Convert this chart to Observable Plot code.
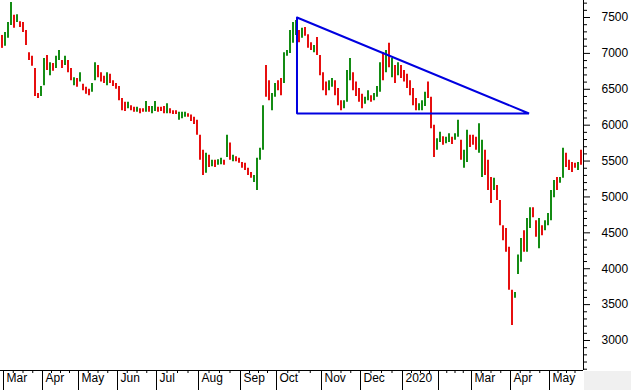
<!DOCTYPE html>
<html>
<head>
<meta charset="utf-8">
<script src="https://cdn.jsdelivr.net/npm/d3@7"></script>
<script src="https://cdn.jsdelivr.net/npm/@observablehq/plot@0.6"></script>
<style>
  html, body { margin: 0; padding: 0; background: #fff; }
</style>
</head>
<body>
<div id="chart"></div>
<script>
// Daily bar ranges (high / low), Mar 2019 – May 2020
const highs = [
  7250,7290,7430,7710,7530,7540,7440,7430,7320,7010,
  6960,6790,6440,6540,6930,6970,6870,6860,6960,7040,
  6900,6960,6900,6790,6660,6650,6730,6570,6530,6500,
  6580,6870,6830,6730,6680,6730,6710,6620,6580,6540,
  6370,6320,6320,6270,6250,6250,6230,6230,6330,6260,
  6260,6330,6250,6250,6260,6300,6230,6200,6200,6180,
  6180,6180,6160,6140,6110,6070,5860,5650,5610,5580,
  5510,5510,5520,5540,5510,5860,5750,5580,5560,5540,
  5480,5470,5400,5340,5300,5540,5680,6270,6830,6620,
  6440,6580,6620,6650,7010,7040,7320,7430,7460,7320,
  7350,7360,7260,7150,7110,7220,6970,6730,6600,6620,
  6650,6620,6510,6340,6340,6760,6930,6730,6600,6510,
  6430,6390,6480,6410,6440,6540,6870,7010,7040,7140,
  6930,6830,6870,6830,6760,6710,6620,6510,6370,6300,
  6340,6460,6600,6390,6000,5810,5900,5840,5830,5880,
  5830,5880,6070,5790,5650,5930,5860,5860,5830,6020,
  5790,5650,5510,5270,5260,5160,4950,4600,4560,4300,
  3700,3670,4190,4420,4530,4700,4850,4850,4670,4700,
  4600,4670,4770,5090,5230,5270,5270,5680,5610,5510,
  5480,5470,5480,5650
];
const lows = [
  7070,7100,7210,7390,7350,7430,7360,7290,7110,6900,
  6820,6400,6370,6400,6550,6760,6690,6750,6790,6900,
  6790,6830,6730,6620,6550,6530,6600,6480,6430,6410,
  6460,6620,6660,6600,6580,6550,6580,6540,6500,6340,
  6200,6190,6230,6200,6180,6180,6160,6180,6180,6180,
  6160,6190,6180,6190,6160,6160,6160,6150,6150,6070,
  6090,6110,6110,6050,6010,5860,5510,5300,5330,5410,
  5420,5410,5440,5450,5440,5550,5510,5490,5490,5470,
  5400,5370,5300,5260,5200,5090,5510,5650,6390,6340,
  6200,6390,6480,6410,6580,6960,7000,7140,7250,7150,
  7210,7240,7070,7040,7010,6970,6690,6480,6410,6480,
  6530,6410,6270,6200,6230,6320,6620,6480,6400,6320,
  6230,6290,6340,6320,6340,6390,6460,6620,6730,6800,
  6660,6580,6690,6650,6600,6510,6410,6270,6200,6200,
  6200,6260,6370,5950,5550,5650,5760,5720,5740,5760,
  5730,5790,5830,5510,5400,5480,5690,5720,5650,5610,
  5270,5300,5090,4910,5090,4950,4600,4390,4230,3700,
  3210,3590,3920,4090,4230,4230,4560,4710,4440,4280,
  4460,4530,4600,4670,4990,5090,5190,5260,5410,5370,
  5340,5400,5370,5440
];
// g = up day, r = down day
const direction =
  "rgggrgrrrr" + "rrrggrgrgg" + "rgrrgrgrrr" + "ggrrrgrrrr" + "rrgrrgrrgr" +
  "ggrrrgrrrg" + "ggrrrrrrgr" + "grggrgrgrr" + "rrrrggggrr" + "ggrrgggggr" +
  "grrrgrrrrg" + "grrrgggrrr" + "rggrgggrgr" + "grgrrrrrrg" + "ggrrrggrgg" +
  "rggrggrrrg" + "grrrgrrrrr" + "rgggrggrrg" + "rggggrggrr" + "rrgr";

// Month start (bar index) and labels
const monthStarts = [1, 14, 26, 39, 52, 66, 80, 92, 107, 120, 134, 146, 157, 170, 183];
const monthLabels = ["Mar","Apr","May","Jun","Jul","Aug","Sep","Oct","Nov","Dec","2020","","Mar","Apr","May"];

// Y axis ticks
const majorTicks = [3000,3500,4000,4500,5000,5500,6000,6500,7000,7500];

// Descending triangle drawn on the chart (bar index, price)
const triIndex = [98.33, 175.67, 98.33, 98.33];
const triPrice = [7500, 6163, 6163, 7500];

const GREEN = "#148c14";
const RED = "#e60f0f";
const BLUE = "#0000e0";

const bars = highs.map((h, i) => ({i, hi: h, lo: lows[i], up: direction[i] === "g"}));
const tri = triIndex.map((x, k) => ({x, y: triPrice[k]}));
const X0 = -0.5, X1 = bars.length - 1 + 5/6;
const Y0 = 2582, Y1 = 7737;

const minorY = d3.range(2600, 7701, 100).filter(v => v % 500 !== 0);
const seps = monthStarts.map(s => s - 0.5);
const bounds = seps.concat([X1]);
const weekly = [];
for (let k = 0; k < seps.length; k++) {
  const a = bounds[k], b = bounds[k + 1];
  for (let j = 1; j <= 3; j++) weekly.push(a + (b - a) * j / 4);
}
const labelData = seps.map((s, k) => ({x: s, t: monthLabels[k]}));

const FONT = "'Liberation Sans', Arial, sans-serif";

const chart = Plot.plot({
  width: 631,
  height: 390,
  marginTop: 0,
  marginRight: 48,
  marginBottom: 20,
  marginLeft: 0,
  style: {fontFamily: FONT, fontSize: "12px", background: "#fff", color: "#000", overflow: "visible"},
  x: {domain: [X0, X1], axis: null},
  y: {domain: [Y0, Y1], axis: null},
  marks: [
    Plot.ruleX(bars, {x: "i", y1: "lo", y2: "hi", stroke: d => d.up ? GREEN : RED, strokeWidth: 2}),
    Plot.line(tri, {x: "x", y: "y", stroke: BLUE, strokeWidth: 2, strokeLinejoin: "miter"}),
    Plot.ruleX([X1], {stroke: "#000"}),
    Plot.ruleY([Y0], {stroke: "#000"}),
    Plot.axisY({anchor: "right", ticks: majorTicks, tickSize: 6, tickPadding: 12, tickFormat: d => String(d), fontSize: 12, stroke: "#000"}),
    Plot.axisY({anchor: "right", ticks: minorY, tickSize: 3, tickFormat: () => "", stroke: "#000"}),
    Plot.axisX({anchor: "bottom", ticks: seps, tickSize: 20, tickFormat: () => "", stroke: "#000"}),
    Plot.axisX({anchor: "bottom", ticks: weekly, tickSize: 3, tickFormat: () => "", stroke: "#000"}),
    Plot.text(labelData, {x: "x", text: "t", frameAnchor: "bottom", dy: 11, dx: 3, textAnchor: "start", fontSize: 12, fill: "#000"})
  ]
});

d3.select(chart).insert("rect", ":first-child")
  .attr("x", 584).attr("y", 371).attr("width", 47).attr("height", 19)
  .attr("fill", "#f0f0f0");

document.getElementById("chart").appendChild(chart);
</script>
</body>
</html>
